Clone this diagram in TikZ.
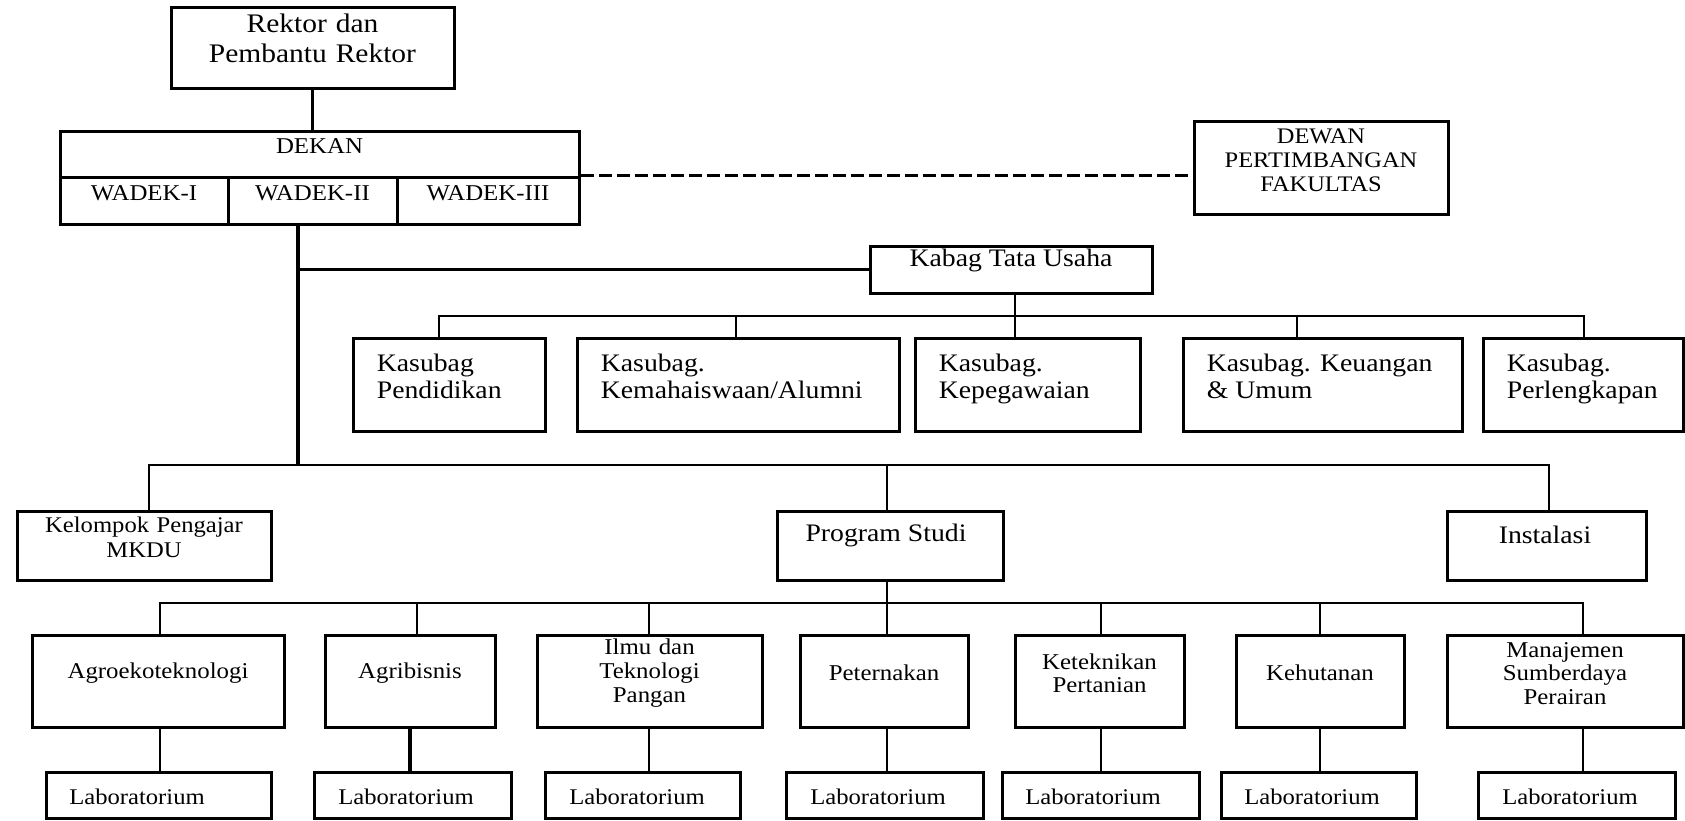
\documentclass[tikz,border=0pt]{standalone}
\usepackage{fontspec}
\setmainfont{Liberation Serif}[FakeStretch=1.1]
\usetikzlibrary{fit}
\begin{document}
\begin{tikzpicture}[x=0.5pt,y=-0.5pt,
  box/.style={draw, line width=1.5pt, inner sep=0pt, fit={#1}},
  conn/.style={line width=1.1pt},
  trunkline/.style={line width=2pt},
  dashline/.style={line width=1.6pt, dash pattern=on 6.5pt off 2.5pt},
  std/.style={font=\fontsize{11.3}{11.9}\selectfont, align=center},
  big/.style={font=\fontsize{12.6}{13.5}\selectfont},
  ktxt/.style={font=\fontsize{12.6}{13.5}\selectfont, align=left, inner sep=0pt, anchor=north west, xshift=12.5pt, yshift=-8.5pt},
  labtxt/.style={font=\fontsize{11.2}{12}\selectfont, inner sep=0pt}
]
\fill[white] (0,0) rectangle (1685,820);
\useasboundingbox (0,0) rectangle (1685,820);

% top
\node[box={(171,7)(454,88)}, font=\fontsize{13.4}{15}\selectfont, align=center] (rektor) {Rektor dan\\Pembantu Rektor};
\node[box={(60,131)(579,177)}, std] (dekan) {DEKAN};
\node[box={(60,177)(228,224)}, std] (wadek1) {WADEK-I};
\node[box={(228,177)(397,224)}, std] (wadek2) {WADEK-II};
\node[box={(397,177)(579,224)}, std] (wadek3) {WADEK-III};
\node[box={(1194,121)(1448,214)}, std, font=\fontsize{11.1}{12}\selectfont] (dewan) {DEWAN\\PERTIMBANGAN\\FAKULTAS};
\node[box={(870,246)(1152,293)}, big] (kabag) {Kabag Tata Usaha};

% kasubag
\node[box={(353,338)(545,431)}] (ks1) {};
\node[box={(577,338)(899,431)}] (ks2) {};
\node[box={(915,338)(1140,431)}] (ks3) {};
\node[box={(1183,338)(1462,431)}] (ks4) {};
\node[box={(1483,338)(1683,431)}] (ks5) {};
\node[ktxt] (ks1t) at (ks1.north west) {Kasubag\\Pendidikan};
\node[ktxt] (ks2t) at (ks2.north west) {Kasubag.\\Kemahaiswaan/Alumni};
\node[ktxt] (ks3t) at (ks3.north west) {Kasubag.\\Kepegawaian};
\node[ktxt] (ks4t) at (ks4.north west) {Kasubag. Keuangan\\\& Umum};
\node[ktxt] (ks5t) at (ks5.north west) {Kasubag.\\Perlengkapan};

% third row
\node[box={(17,511)(271,580)}, font=\fontsize{11.2}{12.5}\selectfont, align=center] (kel) {Kelompok Pengajar\\MKDU};
\node[box={(777,511)(1003,580)}] (ps) {};
\node[big, inner sep=0pt] (pst) at (886,535) {Program Studi};
\node[box={(1447,511)(1646,580)}] (inst) {};
\node[big, inner sep=0pt] (instt) at (1545,535) {Instalasi};

% study programmes
\node[box={(32,635)(284,727)}, std] (p1) {Agroekoteknologi};
\node[box={(325,635)(495,727)}, std] (p2) {Agribisnis};
\node[box={(537,635)(762,727)}, std] (p3) {Ilmu dan\\Teknologi\\Pangan};
\node[box={(800,635)(968,727)}, std] (p4) {Peternakan};
\node[box={(1015,635)(1184,727)}, std] (p5) {Keteknikan\\Pertanian};
\node[box={(1236,635)(1404,727)}, std] (p6) {Kehutanan};
\node[box={(1447,635)(1683,727)}, std] (p7) {Manajemen\\Sumberdaya\\Perairan};

% labs
\node[box={(46,772)(271,818)}] (l1) {};
\node[box={(314,772)(511,818)}] (l2) {};
\node[box={(545,772)(740,818)}] (l3) {};
\node[box={(786,772)(983,818)}] (l4) {};
\node[box={(1002,772)(1199,818)}] (l5) {};
\node[box={(1221,772)(1416,818)}] (l6) {};
\node[box={(1478,772)(1675,818)}] (l7) {};
\node[labtxt] (l1t) at (137,797) {Laboratorium};
\node[labtxt] (l2t) at (406,797) {Laboratorium};
\node[labtxt] (l3t) at (637,797) {Laboratorium};
\node[labtxt] (l4t) at (878,797) {Laboratorium};
\node[labtxt] (l5t) at (1093,797) {Laboratorium};
\node[labtxt] (l6t) at (1312,797) {Laboratorium};
\node[labtxt] (l7t) at (1570,797) {Laboratorium};

% junction coordinates
\coordinate (tT) at (298,224);
\coordinate (b2-1) at (439,316);
\coordinate (b2-2) at (736,316);
\coordinate (b2-3) at (1015,316);
\coordinate (b2-4) at (1297,316);
\coordinate (b2-5) at (1584,316);
\coordinate (b3l) at (149,465);
\coordinate (b3m) at (887,465);
\coordinate (b3r) at (1549,465);
\coordinate (b4-1) at (160,603);
\coordinate (b4-2) at (417,603);
\coordinate (b4-3) at (649,603);
\coordinate (b4-4) at (887,603);
\coordinate (b4-5) at (1101,603);
\coordinate (b4-6) at (1320,603);
\coordinate (b4-7) at (1583,603);

% connectors
\draw[conn] (rektor.south) -- (rektor.south |- dekan.north);
\draw[dashline] (wadek3.north east) -- (wadek3.north east -| dewan.west);
\draw[trunkline] (tT) -- (tT |- b3l);
\draw[conn] (kabag.west) -- (kabag.west -| tT);
\draw[conn] (kabag.south -| b2-3) -- (b2-3);
\draw[conn] (ks1.north -| b2-1) -- (b2-1) -- (b2-5) -- (ks5.north -| b2-5);
\draw[conn] (b2-2) -- (ks2.north -| b2-2);
\draw[conn] (b2-3) -- (ks3.north -| b2-3);
\draw[conn] (b2-4) -- (ks4.north -| b2-4);
\draw[conn] (kel.north -| b3l) -- (b3l) -- (b3r) -- (inst.north -| b3r);
\draw[conn] (b3m) -- (ps.north -| b3m);
\draw[conn] (ps.south -| b3m) -- (b4-4);
\draw[conn] (p1.north -| b4-1) -- (b4-1) -- (b4-7) -- (p7.north -| b4-7);
\foreach \i in {2,...,6} {\draw[conn] (b4-\i) -- (p\i.north -| b4-\i);}
\draw[conn] (p1.south -| b4-1) -- (l1.north -| b4-1);
\draw[line width=2.1pt] (p2.south) -- (p2.south |- l2.north);
\draw[conn] (p3.south -| b4-3) -- (l3.north -| b4-3);
\draw[conn] (p4.south -| b4-4) -- (l4.north -| b4-4);
\draw[conn] (p5.south -| b4-5) -- (l5.north -| b4-5);
\draw[conn] (p6.south -| b4-6) -- (l6.north -| b4-6);
\draw[conn] (p7.south -| b4-7) -- (l7.north -| b4-7);
\end{tikzpicture}
\end{document}
